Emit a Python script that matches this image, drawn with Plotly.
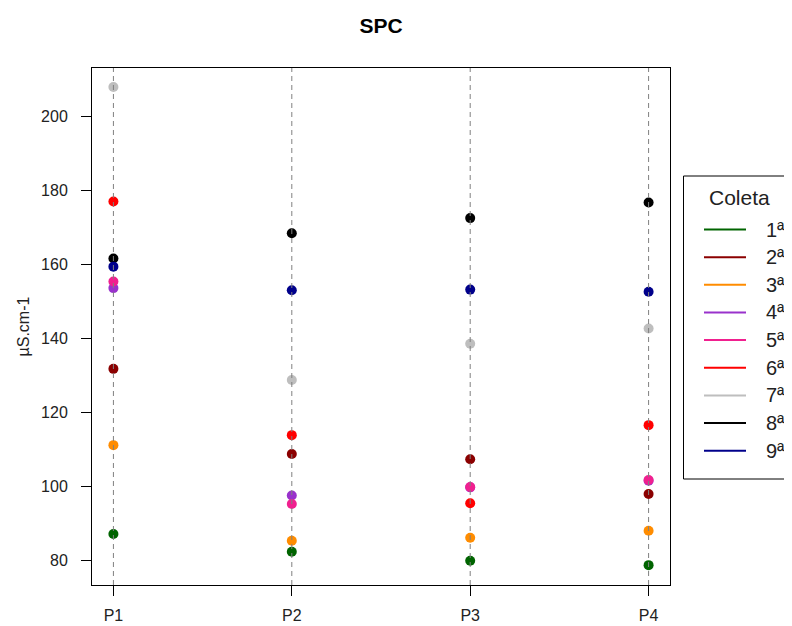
import plotly.graph_objects as go

# ---- data ----
categories = ["P1", "P2", "P3", "P4"]
series_names = ["1ª", "2ª", "3ª", "4ª", "5ª", "6ª", "7ª", "8ª", "9ª"]
s1 = [87.2, 82.4, 80.0, 78.8]
s2 = [131.8, 108.8, 107.4, 98.0]
s3 = [111.2, 85.4, 86.2, 88.1]
s4 = [153.6, 97.6, 99.8, 101.6]
s5 = [155.4, 95.3, 99.9, 101.8]
s6 = [177.0, 113.9, 95.5, 116.6]
s7 = [207.9, 128.8, 138.6, 142.7]
s8 = [161.6, 168.4, 172.5, 176.7]
s9 = [159.4, 153.0, 153.2, 152.6]
series_values = [s1, s2, s3, s4, s5, s6, s7, s8, s9]
colors = ["#006400", "#8B0000", "#FF8C00", "#9932CC", "#F0208F",
          "#FF0000", "#BEBEBE", "#000000", "#00008B"]
y_ticks = [80, 100, 120, 140, 160, 180, 200]

# ---- layout geometry (window pixels; page body has an 8px margin) ----
OFF = 8
W, H = 792 - OFF, 626 - OFF
L, R, T, B = 92, 670, 68, 585          # plot area in window pixels
PW, PH = R - L, B - T


def px(xp):
    return (xp - L) / PW


def py(yp):
    return (B - yp) / PH


TXT = "#222222"
FONT = "Liberation Sans, Arial, sans-serif"

fig = go.Figure()
for name, vals, col in zip(series_names, series_values, colors):
    fig.add_trace(go.Scatter(
        x=categories, y=vals, mode="markers", name=name,
        marker=dict(color=col, size=10, line=dict(width=0)),
        showlegend=False,
    ))

shapes = []
# dashed vertical guide lines at each category (drawn above points like abline)
for i, _ in enumerate(categories):
    shapes.append(dict(type="line", xref="x", yref="paper", x0=i, x1=i, y0=0, y1=1,
                       line=dict(color="#808080", width=1, dash="5px,4px"), layer="above"))

# manual legend box
shapes.append(dict(type="rect", xref="paper", yref="paper",
                   x0=px(683.5), x1=px(790), y0=py(479), y1=py(176),
                   line=dict(color="#000000", width=1), fillcolor="white", layer="above"))
annotations = [
    dict(text="Coleta", xref="paper", yref="paper", x=px(707), y=py(197),
         xanchor="left", yanchor="middle", showarrow=False,
         font=dict(size=21, color=TXT, family=FONT)),
    dict(text="µS.cm-1", xref="paper", yref="paper", x=px(23), y=0.5,
         xanchor="center", yanchor="middle", textangle=-90, showarrow=False,
         font=dict(size=16, color=TXT, family=FONT)),
]
y0_leg, dy_leg = 229.5, 27.65
for k, (name, col) in enumerate(zip(series_names, colors)):
    yy = y0_leg + k * dy_leg
    shapes.append(dict(type="line", xref="paper", yref="paper",
                       x0=px(704), x1=px(746), y0=py(yy), y1=py(yy),
                       line=dict(color=col, width=2), layer="above"))
    annotations.append(dict(text=name, xref="paper", yref="paper", x=px(764), y=py(yy),
                            xanchor="left", yanchor="middle", showarrow=False,
                            font=dict(size=20, color=TXT, family=FONT)))

fig.update_layout(
    width=W, height=H,
    margin=dict(l=L - OFF, r=(W + OFF) - R, t=T - OFF, b=(H + OFF) - B, autoexpand=False),
    paper_bgcolor="white", plot_bgcolor="white",
    font=dict(family=FONT, color=TXT, size=16),
    title=dict(text="<b>SPC</b>", x=px(381), xref="paper", xanchor="center",
               y=1 - (26 - OFF) / H, yref="container", yanchor="middle",
               font=dict(size=21, color="#000000", family=FONT)),
    xaxis=dict(type="category", range=[-0.12, 3.12], showgrid=False, zeroline=False,
               showline=True, mirror=True, linecolor="#000000", linewidth=1,
               ticks="outside", ticklen=10, tickcolor="#000000", tickwidth=1,
               ticklabelstandoff=6, tickfont=dict(size=16, color=TXT)),
    yaxis=dict(range=[73.44, 213.03], tickvals=y_ticks, showgrid=False, zeroline=False,
               showline=True, mirror=True, linecolor="#000000", linewidth=1,
               ticks="outside", ticklen=10, tickcolor="#000000", tickwidth=1,
               ticklabelstandoff=10, tickfont=dict(size=16, color=TXT)),
    shapes=shapes, annotations=annotations, showlegend=False,
)

fig.write_html("out.html")
